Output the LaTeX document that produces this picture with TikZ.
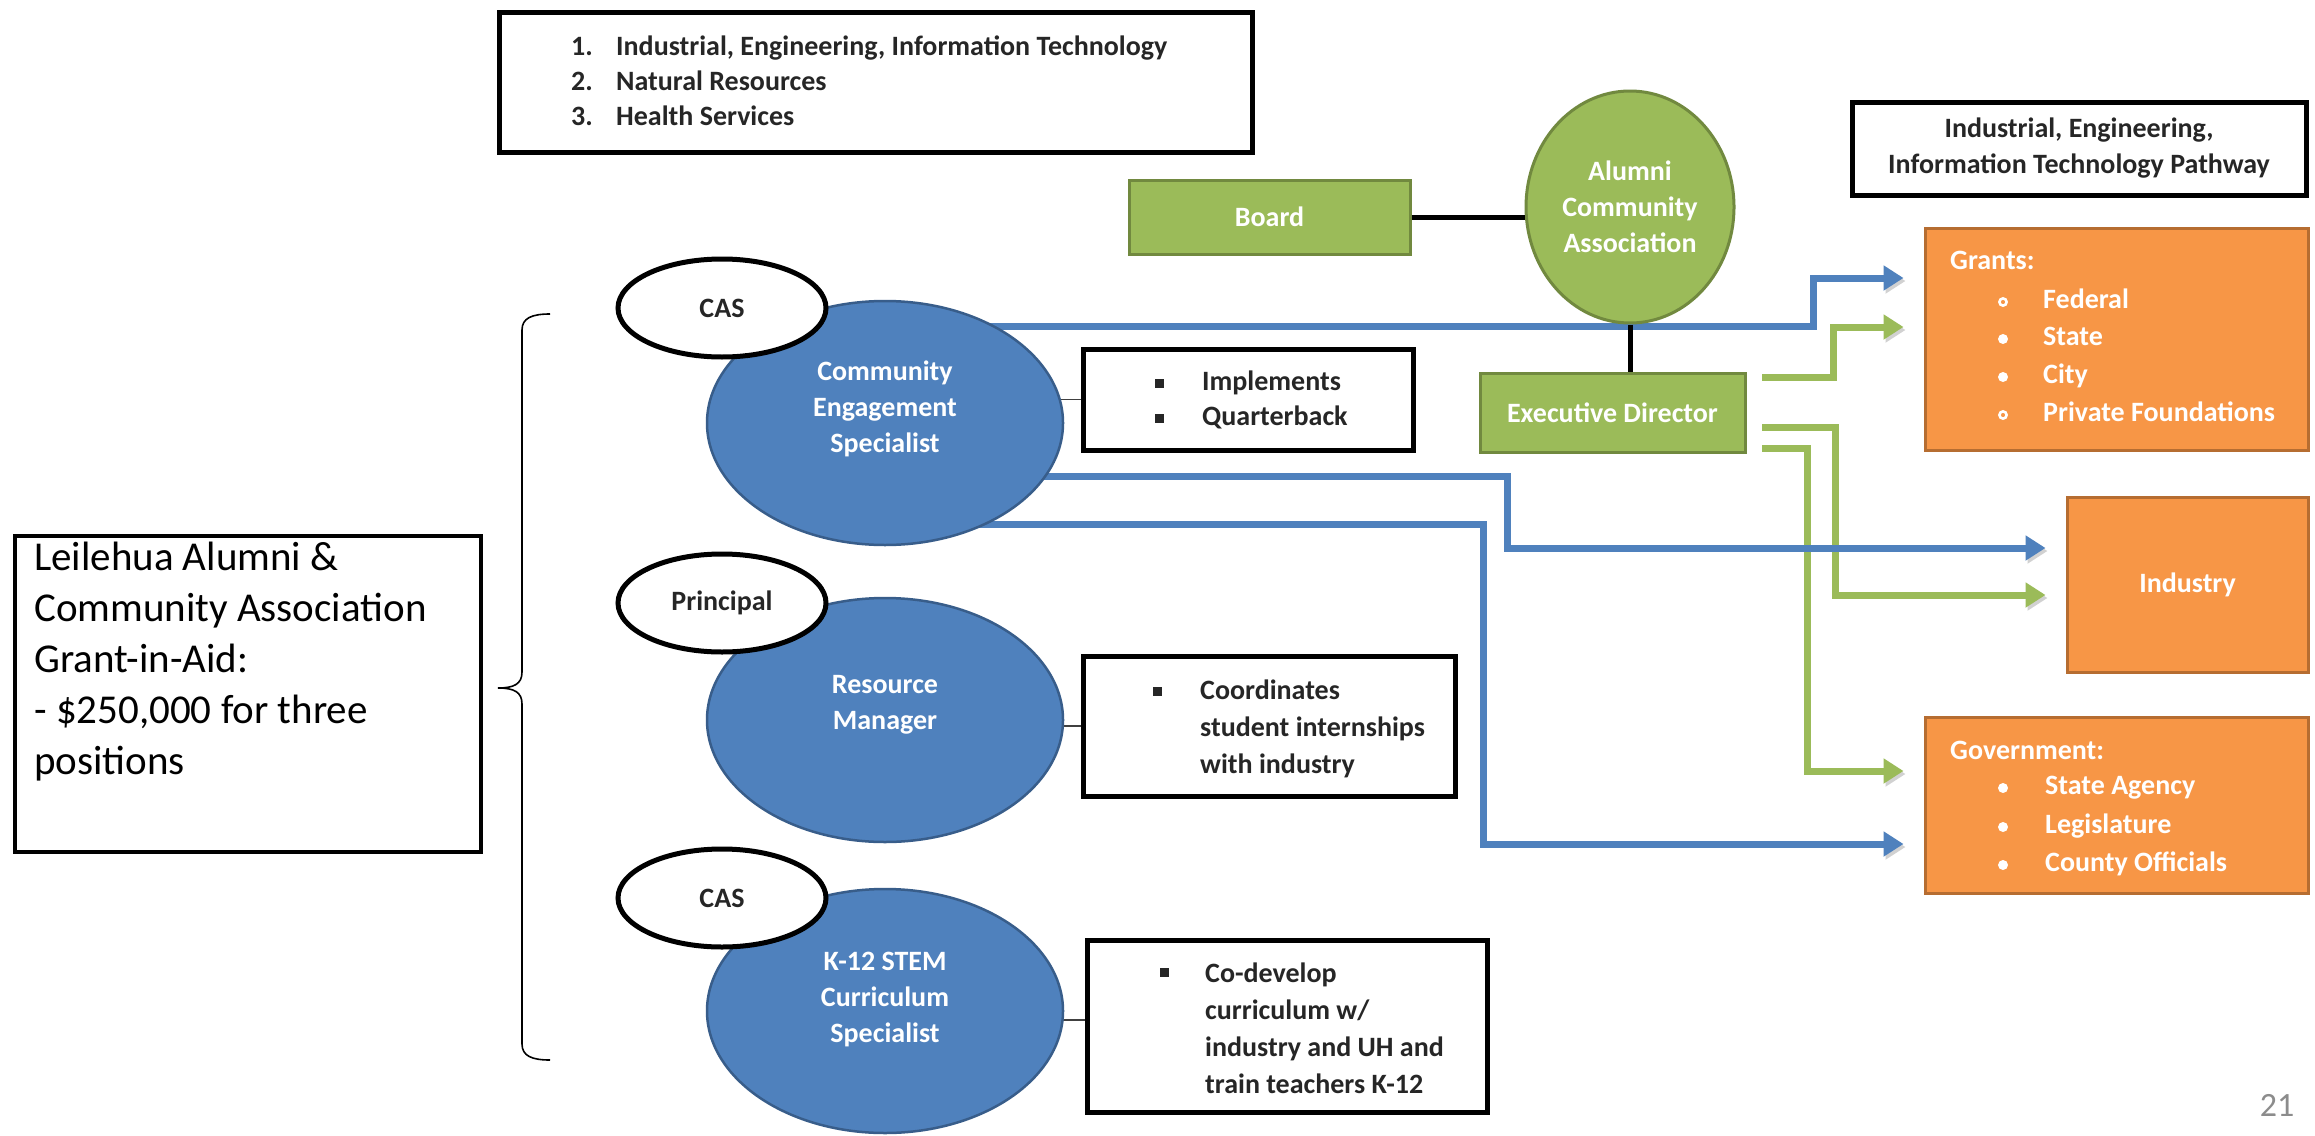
\documentclass[tikz,border=0pt]{standalone}
\usepackage{fontspec}
\setmainfont{Carlito}
\usetikzlibrary{arrows.meta,shapes.geometric,shadows}
\pgfdeclarelayer{background}
\pgfsetlayers{background,main}

\definecolor{roleblue}{HTML}{4F81BD}
\definecolor{roleedge}{HTML}{385D8A}
\definecolor{boardgreen}{HTML}{9BBB59}
\definecolor{boardedge}{HTML}{71893F}
\definecolor{fundorange}{HTML}{F79646}
\definecolor{fundedge}{HTML}{B66D31}
\definecolor{pagegray}{HTML}{8C8C8C}

\newcommand\dgfont{\fontsize{28}{36}\selectfont\bfseries}

\begin{document}
\begin{tikzpicture}[x=1pt,y=-1pt,
  softshadow/.style={drop shadow={shadow xshift=3pt, shadow yshift=-3pt, opacity=0.25, fill=black}},
  blackbox/.style={draw=black, line width=5pt, fill=white, inner sep=0pt, softshadow},
  greenbox/.style={draw=boardedge, line width=3pt, fill=boardgreen, text=white,
    font=\dgfont, inner sep=0pt, align=center},
  orangebox/.style={draw=fundedge, line width=3pt, fill=fundorange, text=white,
    font=\dgfont, inner sep=0pt},
  role/.style={ellipse, draw=roleedge, line width=2.5pt, fill=roleblue, inner sep=0pt,
    minimum width=356pt, minimum height=244pt},
  roletag/.style={ellipse, draw=black, line width=5pt, fill=white, inner sep=0pt,
    minimum width=208pt, minimum height=98pt, font=\dgfont, text=black!85},
  dtext/.style={font=\dgfont, text=black!85, inner sep=0pt, text height=19pt, text depth=6pt},
  wtext/.style={dtext, text=white},
  mtext/.style={font=\dgfont, inner sep=0pt},
  link/.style={draw=black, line width=5pt},
  thinlink/.style={draw=black!75, line width=1.8pt},
  flow/.style={line width=7pt, -{Triangle[length=20pt,width=24pt]}, shorten >=20pt,
    preaction={draw=black!18, transform canvas={shift={(2pt,-3pt)}}}},
  blueflow/.style={flow, draw=roleblue},
  greenflow/.style={flow, draw=boardgreen},
]
\begin{pgfonlayer}{background}
  \fill[white] (0,0) rectangle (2315,1135);
\end{pgfonlayer}
\useasboundingbox (0,0) rectangle (2315,1135);

% ---- career pathway list
\node[blackbox, minimum width=753pt, minimum height=140pt] (clusters) at (875.5,82) {};
\node[dtext, anchor=west] (c1num) at (571,49) {1.};
\node[dtext, anchor=west] (c1) at (616,49) {Industrial, Engineering, Information Technology};
\node[dtext, anchor=west] (c2num) at (571,84) {2.};
\node[dtext, anchor=west] (c2) at (616,84) {Natural Resources};
\node[dtext, anchor=west] (c3num) at (571,119) {3.};
\node[dtext, anchor=west] (c3) at (616,119) {Health Services};

% ---- association
\node[greenbox, minimum width=281pt, minimum height=74pt] (board) at (1269.5,217) {Board};
\node[greenbox, ellipse, minimum width=208pt, minimum height=232pt] (alumni) at (1630,207)
  {Alumni\\Community\\Association};
\node[greenbox, minimum width=265pt, minimum height=79pt] (exec) at (1612.5,412.5) {Executive Director};
\draw[link] (board.east) -- (board.east -| alumni.west);
\draw[link] (alumni.south) -- (alumni.south |- exec.north);

% ---- pathway title
\node[blackbox, minimum width=454pt, minimum height=93pt, mtext, text=black!85, align=center]
  (pathway) at (2079,148.5) {Industrial, Engineering,\\Information Technology Pathway};

% ---- funding partners
\node[orangebox, minimum width=383pt, minimum height=222pt] (grants) at (2116.5,339) {};
\node[wtext, anchor=west] (granthead) at (1950,263) {Grants:};
\node[wtext, anchor=west] (grant1) at (2043,302) {Federal};
\node[wtext, anchor=west] (grant2) at (2043,339) {State};
\node[wtext, anchor=west] (grant3) at (2043,377) {City};
\node[wtext, anchor=west] (grant4) at (2043,415) {Private Foundations};
\draw[white, line width=2.6pt] (2003,302) circle (3.6pt);
\fill[white] (2003,339) circle (5pt);
\fill[white] (2003,377) circle (5pt);
\draw[white, line width=2.6pt] (2003,415) circle (3.6pt);

\node[orangebox, minimum width=241pt, minimum height=175pt] (industry) at (2187.5,584.5) {Industry};

\node[orangebox, minimum width=383pt, minimum height=176pt] (gov) at (2116.5,805) {};
\node[wtext, anchor=west] (govhead) at (1950,753) {Government:};
\node[wtext, anchor=west] (gov1) at (2045,788) {State Agency};
\node[wtext, anchor=west] (gov2) at (2045,827) {Legislature};
\node[wtext, anchor=west] (gov3) at (2045,865) {County Officials};
\foreach \yy in {788,827,865} \fill[white] (2003,\yy) circle (5pt);

% ---- funded positions
\node[role] (ces) at (885,423) {};
\node[mtext, text=white, align=center] (cestext) at (885,409) {Community\\Engagement\\Specialist};
\node[roletag] (tag1) at (722,308) {CAS};

\node[role] (rm) at (885,720) {};
\node[mtext, text=white, align=center] (rmtext) at (885,705) {Resource\\Manager};
\node[roletag] (tag2) at (722,603) {Principal};

\node[role] (k12) at (885,1011) {};
\node[mtext, text=white, align=center] (k12text) at (885,1000) {K-12 STEM\\Curriculum\\Specialist};
\node[roletag] (tag3) at (722,898) {CAS};

% ---- duties
\node[blackbox, minimum width=330pt, minimum height=101pt] (duty1) at (1248,399.5) {};
\node[dtext, anchor=west] (duty1a) at (1202,384) {Implements};
\node[dtext, anchor=west] (duty1b) at (1202,419) {Quarterback};
\fill[black!85] (1155,379) rectangle (1164,388);
\fill[black!85] (1155,414) rectangle (1164,423);

\node[blackbox, minimum width=372pt, minimum height=140pt] (duty2) at (1269,726) {};
\node[mtext, text=black!85, align=left, anchor=west, font=\fontsize{28}{37}\selectfont\bfseries]
  (duty2a) at (1200,729) {Coordinates\\student internships\\with industry};
\fill[black!85] (1153,687) rectangle (1162,696);

\node[blackbox, minimum width=400pt, minimum height=172pt] (duty3) at (1287,1026) {};
\node[mtext, text=black!85, align=left, anchor=west, font=\fontsize{28}{37}\selectfont\bfseries]
  (duty3a) at (1205,1028) {Co-develop\\curriculum w/\\industry and UH and\\train teachers K-12};
\fill[black!85] (1160,968) rectangle (1169,977);

% ---- connectors, kept under the shapes
\coordinate (cesout1) at (960,326);
\coordinate (cesout2) at (960,476);
\coordinate (cesout3) at (960,524);
\coordinate (execout1) at (1762,377);
\coordinate (execout2) at (1762,427);
\coordinate (execout3) at (1762,448);
\begin{pgfonlayer}{background}
  \draw[thinlink] (ces.center |- duty1.west) -- (duty1.west);
  \draw[thinlink] (rm.center |- duty2.west) -- (duty2.west);
  \draw[thinlink] (k12.center |- 0,1020) -- (duty3.west |- 0,1020);
  \draw[greenflow] (execout1) -- (1833,377) |- (grants.west |- 0,327);
  \draw[greenflow] (execout2) -- (1835,427) |- (industry.west |- 0,595);
  \draw[greenflow] (execout3) -- (1807,448) |- (gov.west |- 0,771);
  \draw[blueflow] (cesout1) -- (1813,326) |- (grants.west |- 0,278);
  \draw[blueflow] (cesout2) -- (1507,476) |- (industry.west |- 0,548);
  \draw[blueflow] (cesout3) -- (1483,524) |- (gov.west |- 0,844);
\end{pgfonlayer}

% ---- grant-in-aid note and brace
\node[draw=black, line width=4pt, minimum width=466pt, minimum height=316pt, inner sep=0pt]
  (gia) at (248,694) {};
\node[font=\fontsize{41}{51}\selectfont, align=left, anchor=west, inner sep=0pt] (giatext)
  at (34,662) {Leilehua Alumni \&\\Community Association\\Grant-in-Aid:\\- \$250,000 for three\\positions};
\draw[line width=1.6pt] (550,314) .. controls (532,314) and (522,318) .. (522,330)
  -- (522,672) .. controls (522,684) and (514,688) .. (498,688)
  .. controls (514,688) and (522,692) .. (522,704)
  -- (522,1044) .. controls (522,1056) and (532,1060) .. (550,1060);

% ---- slide number
\node[font=\fontsize{34}{40}\selectfont, text=pagegray, inner sep=0pt] (pagenum) at (2277,1105) {21};
\end{tikzpicture}
\end{document}
